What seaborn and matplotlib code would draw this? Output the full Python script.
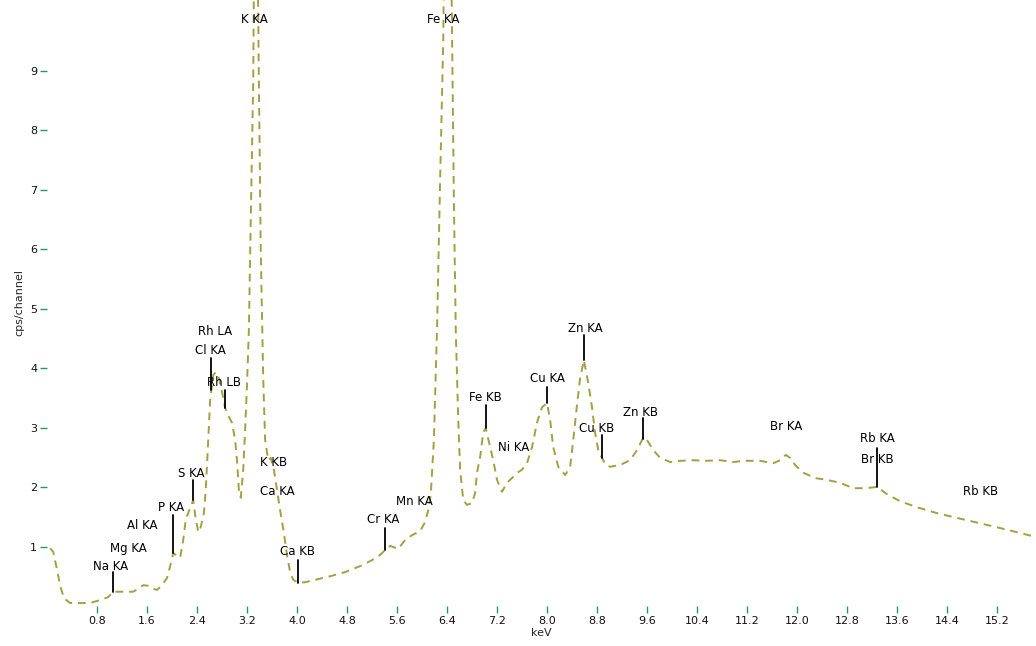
import numpy as np
import pandas as pd
import seaborn as sns
import matplotlib.pyplot as plt

# spectrum (keV, cps/channel)
kev = [0.05, 0.10, 0.16, 0.21, 0.27, 0.37, 0.53, 0.69, 0.85, 0.98,
       1.06, 1.17, 1.38, 1.46, 1.54, 1.62, 1.70, 1.76, 1.84, 1.92,
       1.97, 2.02, 2.06, 2.13, 2.18, 2.22, 2.29, 2.34, 2.37, 2.42,
       2.46, 2.51, 2.54, 2.58, 2.61, 2.66, 2.70, 2.75, 2.80, 2.85,
       2.91, 2.96, 3.01, 3.04, 3.07, 3.10, 3.14, 3.17, 3.20, 3.23,
       3.26, 3.30, 3.33, 3.36, 3.39, 3.42, 3.46, 3.49, 3.54, 3.58,
       3.63, 3.68, 3.73, 3.79, 3.84, 3.89, 3.94, 4.02, 4.13, 4.29,
       4.53, 4.77, 5.01, 5.20, 5.33, 5.41, 5.49, 5.62, 5.73, 5.84,
       5.97, 6.05, 6.10, 6.14, 6.19, 6.24, 6.29, 6.34, 6.38, 6.42,
       6.45, 6.48, 6.51, 6.54, 6.58, 6.61, 6.66, 6.72, 6.80, 6.85,
       6.88, 6.93, 6.98, 7.02, 7.07, 7.14, 7.20, 7.28, 7.36, 7.46,
       7.54, 7.60, 7.68, 7.76, 7.84, 7.92, 8.00, 8.05, 8.10, 8.18,
       8.29, 8.37, 8.42, 8.48, 8.53, 8.59, 8.66, 8.72, 8.77, 8.82,
       8.88, 8.94, 9.01, 9.17, 9.33, 9.44, 9.52, 9.57, 9.63, 9.70,
       9.81, 9.97, 10.13, 10.34, 10.53, 10.77, 10.98, 11.17, 11.41, 11.62,
       11.73, 11.82, 11.89, 11.97, 12.10, 12.29, 12.48, 12.69, 12.90, 13.09,
       13.28, 13.44, 13.65, 13.92, 14.24, 14.56, 14.93, 15.25, 15.52, 15.82]
cps = [0.97, 0.91, 0.61, 0.35, 0.13, 0.05, 0.05, 0.05, 0.10, 0.15,
       0.24, 0.24, 0.24, 0.29, 0.35, 0.34, 0.29, 0.27, 0.35, 0.47,
       0.67, 0.89, 0.86, 0.81, 1.11, 1.45, 1.65, 1.78, 1.53, 1.24,
       1.33, 1.56, 1.95, 2.79, 3.46, 3.88, 3.93, 3.83, 3.60, 3.33,
       3.18, 3.08, 2.79, 2.45, 1.95, 1.82, 2.29, 2.96, 3.71, 4.64,
       6.49, 8.84, 13.5, 11.9, 8.84, 5.98, 3.80, 2.79, 2.45, 2.49,
       2.29, 1.95, 1.61, 1.23, 0.86, 0.57, 0.44, 0.39, 0.40, 0.44,
       0.50, 0.57, 0.67, 0.77, 0.86, 0.94, 1.01, 0.96, 1.11, 1.19,
       1.26, 1.41, 1.61, 1.87, 2.79, 4.64, 7.16, 9.51, 13.5, 14.4,
       12.7, 9.68, 6.82, 4.64, 3.13, 2.29, 1.78, 1.70, 1.73, 1.90,
       2.24, 2.50, 2.92, 2.99, 2.76, 2.45, 2.12, 1.92, 2.07, 2.17,
       2.25, 2.29, 2.40, 2.67, 3.08, 3.34, 3.41, 3.13, 2.67, 2.34,
       2.20, 2.34, 2.79, 3.38, 3.83, 4.13, 3.75, 3.34, 2.91, 2.62,
       2.49, 2.37, 2.34, 2.37, 2.45, 2.62, 2.79, 2.84, 2.74, 2.62,
       2.49, 2.42, 2.44, 2.45, 2.44, 2.45, 2.42, 2.44, 2.44, 2.40,
       2.45, 2.54, 2.49, 2.37, 2.24, 2.15, 2.12, 2.07, 1.98, 1.98,
       2.00, 1.88, 1.76, 1.66, 1.56, 1.48, 1.39, 1.31, 1.24, 1.16]

# peak labels: text, energy, text height, top of marker line (None = no line)
label_names = ["Na KA", "Mg KA", "Al KA", "P KA", "S KA", "Rh LA", "Cl KA",
               "Rh LB", "K KA", "K KB", "Ca KA", "Ca KB", "Cr KA", "Mn KA",
               "Fe KA", "Fe KB", "Ni KA", "Cu KA", "Zn KA", "Cu KB", "Zn KB",
               "Br KA", "Rb KA", "Br KB", "Rb KB"]
label_kev = [1.02, 1.30, 1.53, 1.98, 2.31, 2.69, 2.61, 2.83, 3.32, 3.62,
             3.69, 4.01, 5.38, 5.87, 6.34, 7.02, 7.46, 8.00, 8.61, 8.80,
             9.50, 11.82, 13.28, 13.28, 14.93]
label_y = [0.67, 0.97, 1.36, 1.66, 2.22, 4.62, 4.29, 3.75, 9.85, 2.42,
           1.92, 0.91, 1.45, 1.75, 9.85, 3.51, 2.66, 3.83, 4.67, 2.99,
           3.26, 3.01, 2.82, 2.47, 1.92]
marker_top = [0.57, None, None, 1.53, 2.12, None, 4.17, 3.63, None, None,
              None, 0.77, 1.31, None, None, 3.38, None, 3.68, 4.55, 2.87,
              3.16, None, None, 2.66, None]
marker_kev = [1.06, None, None, 2.02, 2.34, None, 2.63, 2.85, None, None,
              None, 4.02, 5.41, None, None, 7.02, None, 8.00, 8.59, 8.88,
              9.54, None, None, 13.28, None]

xticks = [0.8, 1.6, 2.4, 3.2, 4.0, 4.8, 5.6, 6.4, 7.2, 8.0, 8.8, 9.6,
          10.4, 11.2, 12.0, 12.8, 13.6, 14.4, 15.2]
yticks = [1, 2, 3, 4, 5, 6, 7, 8, 9]

df = pd.DataFrame({"keV": kev, "cps": cps})

sns.set_style("white")
fig = plt.figure(figsize=(10.36, 6.46), dpi=100)
ax = fig.add_axes([47 / 1036, 40 / 646, 989 / 1036, 606 / 646])

sns.lineplot(data=df, x="keV", y="cps", color="#a0a242", linewidth=1.4,
             linestyle=(0, (4, 3)), ax=ax)

for name, lx, ly, mt, mx in zip(label_names, label_kev, label_y, marker_top, marker_kev):
    ax.text(lx, ly, name, ha="center", va="center", fontsize=8.5, color="black")
    if mt is not None:
        base = np.interp(mx, kev, cps)
        ax.plot([mx, mx], [base, mt], color="black", linewidth=1.3)

ax.set_xlim(0, 15.824)
ax.set_ylim(0, 10.185)
ax.set_xticks(xticks)
ax.set_xticklabels([f"{v:.1f}" for v in xticks])
ax.set_yticks(yticks)
ax.set_yticklabels([str(v) for v in yticks])
ax.tick_params(axis="both", which="major", direction="out", length=5,
               width=1, color="#1fa060", labelsize=8, labelcolor="#111111", pad=2)
ax.tick_params(axis="x", bottom=True)
ax.tick_params(axis="y", left=True)
for s in ax.spines.values():
    s.set_visible(False)
ax.set_xlabel("keV", fontsize=8, labelpad=2)
ax.set_ylabel("cps/channel", fontsize=8, labelpad=4)

fig.savefig("out.png", dpi=100)
